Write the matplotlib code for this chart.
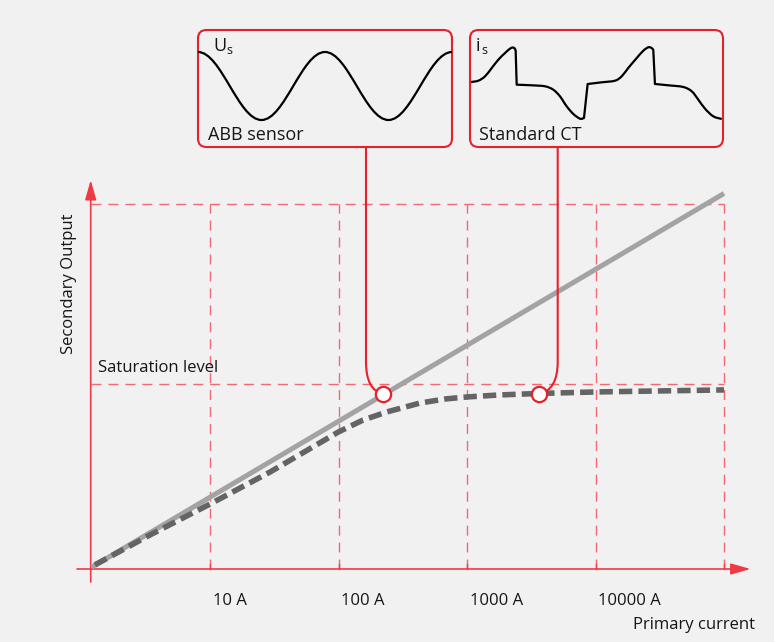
import matplotlib
matplotlib.use("Agg")
import matplotlib.pyplot as plt
from matplotlib.path import Path
from matplotlib.patches import PathPatch, FancyBboxPatch

plt.rcParams['font.family'] = ['Open Sans', 'DejaVu Sans']

# ---------------- data ----------------
decade_currents = [10, 100, 1000, 10000, 100000]
tick_labels = ["10 A", "100 A", "1000 A", "10000 A"]

ideal_current = [1.2, 100000]
ideal_output = [0.01, 2.03]

ct_current = [1.27, 3.41, 10, 29.3, 100, 155, 238, 430, 674, 1000, 1807, 3700, 10000, 100000]
ct_output = [0.022, 0.184, 0.351, 0.524, 0.741, 0.805, 0.849, 0.897, 0.919, 0.930, 0.941,
             0.949, 0.957, 0.968]

saturation_level = 1.0
top_level = 1.973

marker_current = [222, 3630]
marker_output = [0.946, 0.946]

# sensor waveform: extremes (periods, value)
sine_t = [0, 0.5, 1.0, 1.5, 2.0]
sine_v = [1, -1, 1, -1, 1]

# standard CT secondary current waveform, split into smooth runs between the steps
ct_runs_t = [
    [0.008, 0.066, 0.119, 0.172, 0.224, 0.277, 0.324, 0.350, 0.361],
    [0.369, 0.488, 0.593, 0.658, 0.711, 0.764, 0.817, 0.870, 0.901],
    [0.930, 1.041, 1.146, 1.199, 1.251, 1.318, 1.370, 1.410, 1.436, 1.449],
    [1.462, 1.568, 1.686, 1.753, 1.805, 1.858, 1.923, 1.990],
]
ct_runs_v = [
    [0.028, 0.064, 0.186, 0.417, 0.647, 0.833, 0.972, 0.972, 0.897],
    [-0.047, -0.064, -0.092, -0.186, -0.369, -0.647, -0.861, -0.992, -0.972],
    [-0.028, 0.019, 0.064, 0.186, 0.417, 0.694, 0.897, 0.992, 0.972, 0.917],
    [-0.028, -0.064, -0.111, -0.231, -0.464, -0.714, -0.925, -1.0],
]

# ---------------- style ----------------
BG = '#f1f1f1'
RED = '#e8202c'
AXRED = '#ef3a46'
GRIDRED = '#f06a74'
LIGHT = '#a3a3a3'
DARK = '#646464'
TXT = '#161616'

W, H = 774, 642
fig = plt.figure(figsize=(W / 100, H / 100), dpi=100, facecolor=BG)

PX_DEC = 128.5
X10 = 210.0
Y0 = 569.0
PX_UNIT = 185.0


def cur(p):
    return 10 ** (1 + (p - X10) / PX_DEC)


def outp(q):
    return (Y0 - q) / PX_UNIT


ax = fig.add_axes([0, 0, 1, 1])
ax.set_facecolor(BG)
ax.set_xscale('log')
ax.set_xlim(cur(0), cur(W))
ax.set_ylim(outp(H), outp(0))
ax.axis('off')

x_axis_pos = cur(90.7)

# grid lines
dash = (0, (7.2, 5.0))
for c in decade_currents:
    ax.plot([c, c], [0, top_level], color=GRIDRED, lw=1.0, ls=dash, zorder=1)
for lev in [top_level, saturation_level]:
    ax.plot([x_axis_pos, decade_currents[-1]], [lev, lev], color=GRIDRED, lw=1.0, ls=dash, zorder=1)

# axes arrows
arrow_kw = dict(arrowstyle='-|>,head_length=0.6,head_width=0.17', color=AXRED,
                lw=1.2, mutation_scale=20, shrinkA=0, shrinkB=0)
ax.annotate('', xy=(x_axis_pos, outp(180)), xytext=(x_axis_pos, outp(582)),
            arrowprops=arrow_kw, zorder=2)
ax.annotate('', xy=(cur(750.6), 0), xytext=(cur(77), 0), arrowprops=arrow_kw, zorder=2)
for c in decade_currents:
    ax.plot([c, c], [0, outp(563.5)], color=AXRED, lw=1.0, zorder=2)

# tick labels
for c, lab in zip(decade_currents, tick_labels):
    ax.annotate(lab, xy=(c, 0), xytext=(2, -26), textcoords='offset points',
                ha='left', va='baseline', fontsize=12, color=TXT)

# curves
ax.plot(ideal_current, ideal_output, color=LIGHT, lw=3.6, solid_capstyle='butt', zorder=3)
ax.plot(ct_current, ct_output, color=DARK, lw=4.0, ls=(0, (2.4, 1.1)),
        dash_capstyle='butt', zorder=3)


def ft(p, q, s, **kw):
    fig.text(p / W, 1 - q / H, s, **kw)


ft(98, 372, "Saturation level", fontsize=12, ha='left', va='baseline', color=TXT)
ft(69, 284, "Secondary Output", fontsize=12, ha='center', va='center', rotation=90, color=TXT)
ft(633, 629, "Primary current", fontsize=12, ha='left', va='baseline', color=TXT)

tr_in = fig.dpi_scale_trans


def box(p0, q0, p1, q1):
    b = FancyBboxPatch((p0 / 100, (H - q1) / 100), (p1 - p0) / 100, (q1 - q0) / 100,
                       boxstyle="round,pad=0,rounding_size=0.085", transform=tr_in,
                       fc=BG, ec=RED, lw=1.5, zorder=4, clip_on=False)
    ax.add_patch(b)


box(198, 30, 452, 147)
box(470, 30, 723, 147)


def connector(px, qtop, pend, qend):
    verts = [(px, qtop), (px, 362), (px, 390), (pend, qend)]
    verts = [(v[0] / 100, (H - v[1]) / 100) for v in verts]
    codes = [Path.MOVETO, Path.LINETO, Path.CURVE3, Path.CURVE3]
    ax.add_patch(PathPatch(Path(verts, codes), transform=tr_in, fill=False, ec=RED,
                           lw=1.5, zorder=4, clip_on=False))


connector(366, 147, 383, 394)
connector(557.7, 147, 539, 394)

ax.plot(marker_current, marker_output, ls='none', marker='o', ms=11, mfc='white',
        mec=RED, mew=1.6, zorder=6)

# inset: sensor output
ax1 = fig.add_axes([198 / W, 1 - 147 / H, 254 / W, 117 / H])
ax1.axis('off')
ax1.set_xlim(0, 2)
ax1.set_ylim((86 - 147) / 34, (86 - 30) / 34)
k = 0.3634
verts = [(sine_t[0], sine_v[0])]
codes = [Path.MOVETO]
for i in range(len(sine_t) - 1):
    dt = sine_t[i + 1] - sine_t[i]
    verts += [(sine_t[i] + k * dt, sine_v[i]), (sine_t[i + 1] - k * dt, sine_v[i + 1]),
              (sine_t[i + 1], sine_v[i + 1])]
    codes += [Path.CURVE4] * 3
ax1.add_patch(PathPatch(Path(verts, codes), fill=False, ec='black', lw=1.6, clip_on=False))

# inset: standard CT output (smooth runs joined by steep steps)
ax2 = fig.add_axes([470 / W, 1 - 147 / H, 253 / W, 117 / H])
ax2.axis('off')
ax2.set_xlim(0, 2)
ax2.set_ylim((83 - 147) / 36, (83 - 30) / 36)
verts, codes = [], []
for r, (ts, vs) in enumerate(zip(ct_runs_t, ct_runs_v)):
    pts = list(zip(ts, vs))
    verts.append(pts[0])
    codes.append(Path.MOVETO if r == 0 else Path.LINETO)
    n = len(pts)
    for i in range(n - 1):
        p0 = pts[i - 1] if i > 0 else pts[i]
        p1 = pts[i]
        p2 = pts[i + 1]
        p3 = pts[i + 2] if i + 2 < n else pts[i + 1]
        c1 = (p1[0] + (p2[0] - p0[0]) / 6, p1[1] + (p2[1] - p0[1]) / 6)
        c2 = (p2[0] - (p3[0] - p1[0]) / 6, p2[1] - (p3[1] - p1[1]) / 6)
        verts += [c1, c2, p2]
        codes += [Path.CURVE4] * 3
ax2.add_patch(PathPatch(Path(verts, codes), fill=False, ec='black', lw=1.6,
                        joinstyle='round', clip_on=False))

ft(213, 51, "U", fontsize=13, ha='left', va='baseline', color=TXT)
ft(226, 54, "s", fontsize=9, ha='left', va='baseline', color=TXT)
ft(208, 140, "ABB sensor", fontsize=13, ha='left', va='baseline', color=TXT)
ft(476, 51, "i", fontsize=13, ha='left', va='baseline', color=TXT)
ft(481.5, 54, "s", fontsize=9, ha='left', va='baseline', color=TXT)
ft(479, 140, "Standard CT", fontsize=13, ha='left', va='baseline', color=TXT)

fig.savefig('out.png', dpi=100, facecolor=BG)
